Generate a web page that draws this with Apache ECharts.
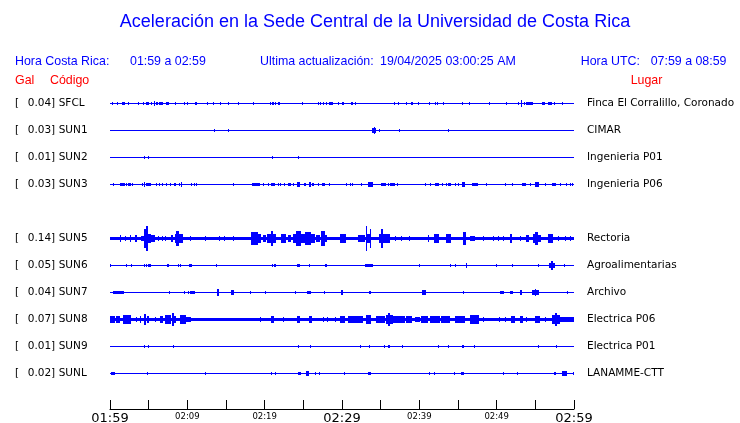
<!DOCTYPE html>
<html>
<head>
<meta charset="utf-8">
<script src="https://cdn.jsdelivr.net/npm/echarts@6/dist/echarts.min.js"></script>
<style>html,body{margin:0;padding:0;background:#fff}#c{width:740px;height:423px}</style>
</head>
<body>
<div id="c"></div>
<script>
// ---- data ----
const tickLabels = ['01:59', '02:09', '02:19', '02:29', '02:39', '02:49', '02:59'];
const codes = ['SFCL', 'SUN1', 'SUN2', 'SUN3', 'SUN4', 'SUN5', 'SUN6', 'SUN7', 'SUN8', 'SUN9', 'SUNL'];
const peakGal = [0.04, 0.03, 0.01, 0.03, null, 0.14, 0.05, 0.04, 0.07, 0.01, 0.02];
const places = ['Finca El Corralillo, Coronado', 'CIMAR', 'Ingenieria P01', 'Ingenieria P06', '',
  'Rectoria', 'Agroalimentarias', 'Archivo', 'Electrica P06', 'Electrica P01', 'LANAMME-CTT'];

// noise floor per station: [fromMin, toMin, halfAmplitudeGal]
const noiseSFCL = [[0, 60, 0.006]];
const noiseSUN1 = [[0, 60, 0.006]];
const noiseSUN2 = [[0, 60, 0.006]];
const noiseSUN3 = [[0, 60, 0.006]];
const noiseSUN5 = [[0, 60, 0.021]];
const noiseSUN6 = [[0, 60, 0.006]];
const noiseSUN7 = [[0, 60, 0.006]];
const noiseSUN8 = [[0, 10.53, 0.02], [10.53, 13.41, 0.012], [13.41, 60, 0.02]];
const noiseSUN9 = [[0, 60, 0.006]];
const noiseSUNL = [[0, 60, 0.006]];

// bursts: [minute, halfAmplitudeGal] or [fromMin, toMin, halfAmplitudeGal]
const burstSFCL = [[0.3,0.018],[0.9,0.018],[1.5,1.9,0.018],[2.3,0.018],[3.6,0.015],[4.3,0.015],[4.6,0.018],[4.8,5.0,0.018],[5.35,0.018],[5.7,0.025],[5.9,6.2,0.018],[6.4,6.85,0.018],[7.3,7.6,0.018],[8.4,0.015],[9.6,0.015],[9.9,0.015],[10.95,11.3,0.018],[12.5,0.015],[13.3,0.015],[14.2,0.018],[15.3,0.015],[16.5,0.018],[18.5,0.018],[20.7,0.018],[21.0,21.2,0.018],[21.4,0.015],[21.7,22.0,0.018],[24.8,0.015],[26.9,0.015],[27.2,0.015],[27.5,0.015],[27.9,0.015],[28.3,28.8,0.018],[29.5,0.015],[30.0,30.3,0.018],[31.1,31.4,0.018],[31.7,0.015],[36.7,0.018],[37.2,0.018],[38.3,0.018],[38.9,39.2,0.018],[39.8,0.015],[41.3,0.012],[42.0,0.015],[42.3,0.015],[43.1,0.015],[45.5,0.015],[46.4,0.012],[49.0,0.015],[51.2,0.015],[52.8,0.012],[53.15,0.04],[53.5,0.015],[53.85,54.7,0.018],[55.9,56.2,0.018],[56.6,57.1,0.018],[57.4,0.015],[58.4,0.018]];
const burstSUN1 = [[13.45,0.012],[15.26,0.012],[33.85,34.45,0.025],[34.14,0.035],[34.78,0.012],[37.37,0.012],[43.71,0.012]];
const burstSUN2 = [[4.4,0.023],[4.91,0.012],[20.95,0.012],[24.31,24.44,0.018]];
const burstSUN3 = [[0.39,0.015],[1.25,1.9,0.018],[2.12,0.015],[2.33,2.68,0.018],[2.84,0.015],[4.14,0.015],[4.4,4.58,0.03],[4.71,5.35,0.022],[6.0,0.015],[6.34,0.015],[6.72,0.015],[7.29,0.015],[7.72,0.015],[8.28,8.59,0.018],[8.88,0.015],[9.14,9.31,0.027],[10.53,0.015],[10.86,0.015],[11.12,0.015],[15.9,0.012],[18.41,19.4,0.02],[19.78,0.015],[20.43,0.015],[20.78,21.39,0.022],[21.72,0.015],[22.03,0.015],[22.5,0.015],[23.02,23.37,0.018],[23.71,0.015],[24.23,24.57,0.024],[25.09,25.34,0.018],[25.69,25.95,0.027],[26.12,26.38,0.018],[26.9,0.015],[27.41,27.76,0.018],[28.28,0.015],[30.57,0.015],[31.0,0.015],[31.34,0.015],[32.51,0.015],[33.36,34.01,0.025],[35.09,35.65,0.018],[35.95,0.018],[36.26,36.81,0.018],[37.11,0.015],[40.78,0.015],[41.34,0.015],[41.99,42.54,0.018],[42.98,0.015],[43.41,0.015],[43.71,44.15,0.018],[44.57,0.015],[45.0,0.015],[45.57,45.87,0.027],[46.86,47.59,0.022],[48.58,0.018],[51.04,0.012],[52.03,0.015],[53.33,53.76,0.018],[54.36,0.015],[54.92,55.47,0.027],[56.21,0.015],[57.21,57.64,0.018],[58.15,0.012],[58.93,0.015],[59.44,0.015],[59.79,0.015]];
const burstSUN5 = [[1.25,0.035],[1.9,0.029],[2.55,2.77,0.035],[3.19,3.54,0.035],[4.06,4.4,0.029],[4.4,4.71,0.116],[4.71,4.91,0.14],[4.91,5.35,0.058],[5.35,5.78,0.035],[6.21,0.029],[6.72,0.029],[7.16,0.029],[7.85,8.15,0.035],[8.37,8.59,0.058],[8.59,8.88,0.093],[8.88,9.44,0.047],[10.31,0.029],[12.25,0.029],[14.1,0.029],[14.74,0.029],[15.9,0.029],[18.28,19.14,0.076],[19.14,19.58,0.047],[19.78,20.22,0.035],[20.35,20.87,0.058],[20.87,21.08,0.093],[21.08,21.52,0.047],[22.16,22.81,0.047],[23.02,23.46,0.035],[23.66,24.1,0.047],[24.1,24.75,0.093],[24.75,25.18,0.047],[25.18,26.04,0.076],[26.04,26.56,0.047],[26.69,27.12,0.035],[27.34,27.76,0.093],[27.76,28.11,0.035],[29.7,30.57,0.047],[32.07,32.94,0.035],[33.07,33.24,0.14],[33.24,33.58,0.058],[33.58,33.71,0.105],[34.78,35.09,0.058],[35.09,35.3,0.11],[35.3,36.17,0.047],[36.81,0.029],[37.68,0.029],[38.66,0.029],[41.12,0.035],[41.86,42.54,0.047],[43.41,44.15,0.047],[45.65,46.0,0.07],[46.51,47.16,0.029],[48.23,0.029],[49.53,0.029],[50.17,0.029],[50.82,0.029],[51.78,52.03,0.047],[52.98,0.029],[53.75,54.18,0.035],[54.7,55.14,0.047],[54.92,55.35,0.081],[55.35,55.78,0.035],[56.64,57.29,0.058],[57.93,0.029],[58.8,0.029],[59.44,0.029]];
const burstSUN6 = [[0,0.18,0.023],[2.12,0.018],[2.68,0.018],[4.4,0.018],[4.71,0.018],[4.91,5.26,0.018],[7.37,7.68,0.023],[8.79,0.015],[9.1,0.015],[10.18,10.6,0.023],[13.67,0.018],[20.95,0.015],[21.21,21.47,0.018],[24.18,24.53,0.023],[25.73,25.91,0.023],[27.76,28.02,0.023],[32.94,34.01,0.023],[39.96,0.012],[44.02,0.015],[44.57,0.015],[46.0,46.22,0.029],[49.96,0.015],[52.03,0.015],[55.35,0.015],[56.77,57.5,0.03],[57.0,57.3,0.052],[58.67,0.015]];
const burstSUN7 = [[0.39,1.77,0.021],[7.63,0.015],[9.57,0.012],[10.09,0.015],[10.31,11.04,0.023],[13.84,14.15,0.035],[15.61,16.03,0.029],[18.15,0.015],[20.0,20.22,0.023],[23.97,0.015],[25.47,26.04,0.023],[27.63,0.012],[29.83,30.13,0.029],[33.49,33.8,0.021],[40.4,40.91,0.033],[45.65,0.018],[50.39,50.91,0.021],[51.68,52.11,0.021],[52.98,53.33,0.029],[54.62,55.47,0.025],[54.9,55.1,0.035],[59.15,0.012]];
const burstSUN8 = [[0,0.61,0.035],[0.83,1.25,0.041],[1.68,2.77,0.047],[3.41,0.029],[3.84,4.06,0.035],[4.4,4.62,0.06],[4.84,5.0,0.041],[5.78,0.029],[6.43,6.85,0.035],[7.07,7.94,0.047],[8.07,8.28,0.07],[8.28,8.59,0.035],[9.01,9.88,0.047],[9.88,10.53,0.029],[11.82,12.25,0.021],[12.67,13.11,0.021],[19.36,0.029],[20.78,21.21,0.041],[22.37,0.029],[24.23,24.53,0.035],[25.69,26.12,0.045],[27.54,0.029],[28.06,0.029],[29.06,0.029],[29.7,30.35,0.035],[30.78,31.77,0.035],[31.77,32.07,0.041],[32.07,32.72,0.035],[33.15,33.8,0.052],[34.45,35.52,0.035],[35.74,36.6,0.05],[36.0,36.2,0.07],[36.6,38.11,0.041],[38.33,39.1,0.041],[39.4,40.05,0.029],[40.27,41.12,0.035],[41.34,42.64,0.035],[42.86,43.93,0.035],[44.57,45.87,0.041],[46.51,47.72,0.047],[48.23,0.029],[50.3,0.029],[51.04,51.26,0.029],[51.91,52.33,0.035],[52.98,53.41,0.035],[53.84,0.029],[54.92,55.57,0.041],[56.21,0.029],[57.21,58.15,0.05],[57.5,57.8,0.07],[58.15,60,0.029]];
const burstSUN9 = [[4.4,4.58,0.018],[4.91,0.015],[8.15,0.012],[24.31,24.44,0.018],[25.91,0.015],[32.29,0.012],[33.49,33.67,0.018],[35.43,0.012],[35.95,36.17,0.018],[37.76,0.012],[42.41,0.012],[43.71,0.012],[45.57,45.74,0.018],[47.03,0.012],[55.35,0.015],[57.72,0.015]];
const burstSUNL = [[0.18,0.61,0.023],[4.78,0.023],[12.25,12.47,0.015],[20.87,21.0,0.021],[21.3,21.52,0.015],[24.31,24.75,0.021],[25.39,25.69,0.029],[26.47,0.015],[27.03,0.015],[30.24,0.015],[33.36,33.8,0.023],[41.25,0.015],[41.9,0.012],[44.48,0.015],[45.44,45.74,0.023],[50.82,0.012],[52.63,0.015],[57.38,57.64,0.023],[58.5,59.1,0.029],[59.87,0.015]];

const noise = [noiseSFCL, noiseSUN1, noiseSUN2, noiseSUN3, [], noiseSUN5, noiseSUN6, noiseSUN7, noiseSUN8, noiseSUN9, noiseSUNL];
const bursts = [burstSFCL, burstSUN1, burstSUN2, burstSUN3, [], burstSUN5, burstSUN6, burstSUN7, burstSUN8, burstSUN9, burstSUNL];

// ---- build ----
const galPerRow = 0.314;   // display scale: acceleration per trace spacing
const BLUE = '#0000ff', RED = '#ff0000';
const items = [];
for (let r = 0; r < codes.length; r++) {
  for (const seg of noise[r].concat(bursts[r])) {
    const b = seg.length === 2 ? [seg[0], seg[0], seg[1]] : seg;
    items.push([b[0], b[1], b[2], r]);
  }
}

const chart = echarts.init(document.getElementById('c'), null, { renderer: 'canvas' });
const FONT = 'DejaVu Sans';
const HF = '12.4px "Liberation Sans"';
chart.setOption({
  animation: false,
  backgroundColor: '#fff',
  grid: { left: 110, right: 166, top: 76, bottom: 14, containLabel: false, outerBoundsMode: 'none' },
  xAxis: {
    type: 'value', min: 0, max: 60, interval: 5,
    axisLine: { show: true, onZero: false, lineStyle: { color: '#000', width: 1 } },
    axisTick: { show: true, inside: true, length: 9, lineStyle: { color: '#000' } },
    splitLine: { show: false },
    axisLabel: {
      margin: 2, verticalAlign: 'top', color: '#000',
      formatter: function (v) {
        if (v % 10 !== 0) return '';
        const i = v / 10;
        return (i % 3 === 0) ? '{big|' + tickLabels[i] + '}' : '{small|' + tickLabels[i] + '}';
      },
      rich: {
        big: { fontFamily: FONT, fontSize: 13, lineHeight: 15, color: '#000' },
        small: { fontFamily: FONT, fontSize: 8.5, lineHeight: 11, color: '#000' }
      }
    }
  },
  yAxis: [{
    type: 'value', inverse: true, min: -1, max: 34 / 3, interval: 1,
    axisLine: { show: false }, axisTick: { show: false }, splitLine: { show: false },
    axisLabel: {
      align: 'left', margin: 95, color: '#000',
      formatter: function (v) {
        if (Math.abs(v - Math.round(v)) > 1e-6) return '';
        const i = Math.round(v);
        if (i < 0 || i >= codes.length || peakGal[i] == null) return '';
        return '{a|[}{v|' + peakGal[i].toFixed(2) + ']}{c|' + codes[i] + '}';
      },
      rich: {
        a: { fontFamily: FONT, fontSize: 10.5, width: 12.7, color: '#000' },
        v: { fontFamily: FONT, fontSize: 10.5, width: 31, color: '#000' },
        c: { fontFamily: FONT, fontSize: 10.5, color: '#000' }
      }
    }
  }, {
    type: 'value', inverse: true, min: -1, max: 34 / 3, interval: 1, position: 'right',
    axisLine: { show: false }, axisTick: { show: false }, splitLine: { show: false },
    axisLabel: {
      align: 'left', margin: 13, color: '#000', fontFamily: FONT, fontSize: 10.5,
      formatter: function (v) {
        if (Math.abs(v - Math.round(v)) > 1e-6) return '';
        const i = Math.round(v);
        if (i < 0 || i >= places.length) return '';
        return places[i];
      }
    }
  }],
  series: [{
    type: 'custom',
    silent: true,
    yAxisIndex: 0,
    encode: { x: [0, 1], y: 3 },
    data: items,
    renderItem: function (params, api) {
      const t0 = api.value(0), t1 = api.value(1), amp = api.value(2), row = api.value(3);
      const ar = amp / galPerRow;
      const pa = api.coord([t0, row]);
      const pb = api.coord([t1, row]);
      const ya = api.coord([t0, row - ar])[1];
      const yb = api.coord([t0, row + ar])[1];
      const x0 = Math.round(pa[0]);
      let x1 = Math.round(pb[0]);
      if (x1 <= x0) x1 = x0 + 1;
      const y0 = Math.round(Math.min(ya, yb) + 0.5);
      let y1 = Math.round(Math.max(ya, yb) + 0.5);
      if (y1 <= y0) y1 = y0 + 1;
      return { type: 'rect', shape: { x: x0, y: y0, width: x1 - x0, height: y1 - y0 }, style: { fill: BLUE } };
    }
  }],
  graphic: [
    { type: 'text', x: 375, y: 22, style: { text: 'Aceleración en la Sede Central de la Universidad de Costa Rica', font: '18px "Liberation Sans"', fill: BLUE, align: 'center', verticalAlign: 'middle' } },
    { type: 'text', x: 15, y: 61.5, style: { text: 'Hora Costa Rica:', font: HF, fill: BLUE, verticalAlign: 'middle' } },
    { type: 'text', x: 130, y: 61.5, style: { text: '01:59 a 02:59', font: HF, fill: BLUE, verticalAlign: 'middle' } },
    { type: 'text', x: 260, y: 61.5, style: { text: 'Ultima actualización:', font: HF, fill: BLUE, verticalAlign: 'middle' } },
    { type: 'text', x: 380, y: 61.5, style: { text: '19/04/2025 03:00:25 AM', font: HF, fill: BLUE, verticalAlign: 'middle' } },
    { type: 'text', x: 580.7, y: 61.5, style: { text: 'Hora UTC:', font: HF, fill: BLUE, verticalAlign: 'middle' } },
    { type: 'text', x: 650.7, y: 61.5, style: { text: '07:59 a 08:59', font: HF, fill: BLUE, verticalAlign: 'middle' } },
    { type: 'text', x: 15, y: 81, style: { text: 'Gal', font: HF, fill: RED, verticalAlign: 'middle' } },
    { type: 'text', x: 50, y: 81, style: { text: 'Código', font: HF, fill: RED, verticalAlign: 'middle' } },
    { type: 'text', x: 630.7, y: 81, style: { text: 'Lugar', font: HF, fill: RED, verticalAlign: 'middle' } }
  ]
});
</script>
</body>
</html>
